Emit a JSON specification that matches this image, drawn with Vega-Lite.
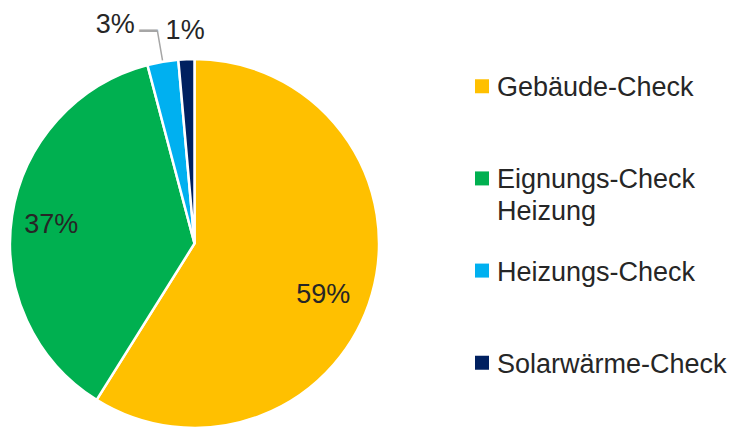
{
  "$schema": "https://vega.github.io/schema/vega-lite/v6.json",
  "padding": 0,
  "spacing": 0,
  "bounds": "flush",
  "background": "white",
  "datasets": {
    "shares": [
      {"name": "Gebäude-Check", "value": 58.9, "label": "59%"},
      {"name": "Eignungs-Check Heizung", "value": 37.0, "label": "37%"},
      {"name": "Heizungs-Check", "value": 2.7, "label": "3%"},
      {"name": "Solarwärme-Check", "value": 1.4, "label": "1%"}
    ]
  },
  "config": {
    "view": {"stroke": null},
    "text": {"font": "Liberation Sans", "fontSize": 27, "fill": "#262626"}
  },
  "hconcat": [
    {
      "width": 389,
      "height": 487,
      "data": {"name": "shares"},
      "layer": [
        {
          "mark": {"type": "arc", "radius": 184.5, "stroke": "white", "strokeWidth": 2.5},
          "encoding": {
            "theta": {"field": "value", "type": "quantitative", "stack": true},
            "order": {"field": "value", "type": "quantitative", "sort": "descending"},
            "color": {
              "field": "name",
              "type": "nominal",
              "scale": {
                "domain": ["Gebäude-Check", "Eignungs-Check Heizung", "Heizungs-Check", "Solarwärme-Check"],
                "range": ["#FFC000", "#00B050", "#00B0F0", "#002060"]
              },
              "legend": null
            }
          }
        },
        {
          "transform": [
            {"stack": "value", "groupby": [], "sort": [{"field": "value", "order": "descending"}], "as": ["v0", "v1"]}
          ],
          "mark": {"type": "arc", "clip": true, "radius": 216, "radius2": 186, "thetaOffset": 0.0848, "theta2Offset": 0.0848, "fillOpacity": 0, "stroke": "#A6A6A6", "strokeWidth": 1.5},
          "encoding": {
            "theta": {"field": "v0", "type": "quantitative"},
            "theta2": {"field": "v0"},
            "strokeOpacity": {"condition": {"test": "datum.name === 'Heizungs-Check'", "value": 1}, "value": 0}
          }
        },
        {
          "mark": {"type": "text", "clip": true, "radius": 216, "align": "right", "baseline": "alphabetic", "dy": 10.5, "font": "DejaVu Sans", "fontSize": 30, "fill": "#A6A6A6"},
          "encoding": {
            "theta": {"field": "value", "type": "quantitative", "stack": true},
            "order": {"field": "value", "type": "quantitative", "sort": "descending"},
            "text": {"condition": {"test": "datum.name === 'Heizungs-Check'", "value": "─"}, "value": ""}
          }
        },
        {
          "mark": {"type": "text", "clip": true, "radius": 138, "dx": -4, "dy": 13},
          "encoding": {
            "theta": {"field": "value", "type": "quantitative", "stack": true},
            "order": {"field": "value", "type": "quantitative", "sort": "descending"},
            "text": {"condition": {"test": "datum.name === 'Gebäude-Check'", "field": "label"}, "value": ""}
          }
        },
        {
          "mark": {"type": "text", "clip": true, "radius": 145, "dy": 3},
          "encoding": {
            "theta": {"field": "value", "type": "quantitative", "stack": true},
            "order": {"field": "value", "type": "quantitative", "sort": "descending"},
            "text": {"condition": {"test": "datum.name === 'Eignungs-Check Heizung'", "field": "label"}, "value": ""}
          }
        },
        {
          "mark": {"type": "text", "clip": true, "radius": 234, "dx": -39, "dy": 12},
          "encoding": {
            "theta": {"field": "value", "type": "quantitative", "stack": true},
            "order": {"field": "value", "type": "quantitative", "sort": "descending"},
            "text": {"condition": {"test": "datum.name === 'Heizungs-Check'", "field": "label"}, "value": ""}
          }
        },
        {
          "mark": {"type": "text", "clip": true, "radius": 213},
          "encoding": {
            "theta": {"field": "value", "type": "quantitative", "stack": true},
            "order": {"field": "value", "type": "quantitative", "sort": "descending"},
            "text": {"condition": {"test": "datum.name === 'Solarwärme-Check'", "field": "label"}, "value": ""}
          }
        }
      ]
    },
    {
      "width": 186,
      "height": 449,
      "data": {"name": "shares"},
      "encoding": {
        "y": {
          "field": "name",
          "type": "nominal",
          "sort": ["Gebäude-Check", "Eignungs-Check Heizung", "Heizungs-Check", "Solarwärme-Check"],
          "scale": {"type": "point", "padding": 0.936},
          "axis": null
        }
      },
      "layer": [
        {
          "mark": {"type": "point", "shape": "square", "size": 196, "filled": true, "opacity": 1},
          "encoding": {
            "color": {
              "field": "name",
              "type": "nominal",
              "scale": {
                "domain": ["Gebäude-Check", "Eignungs-Check Heizung", "Heizungs-Check", "Solarwärme-Check"],
                "range": ["#FFC000", "#00B050", "#00B0F0", "#002060"]
              },
              "legend": null
            }
          }
        },
        {
          "mark": {"type": "text", "align": "left", "baseline": "alphabetic", "dx": 15, "dy": 10, "lineBreak": " ", "lineHeight": 31.5},
          "encoding": {"text": {"field": "name"}}
        }
      ]
    }
  ]
}
